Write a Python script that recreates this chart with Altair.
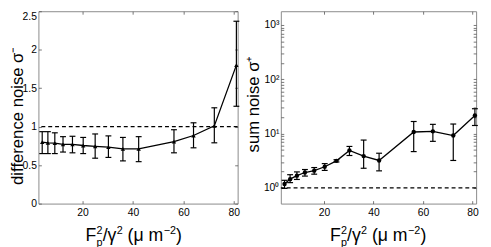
import altair as alt
import pandas as pd

# ---------------- data ----------------
x_vals = [4, 6.25, 9, 12.25, 16, 20.25, 25, 30.25, 36, 42.25, 56.25, 64, 72.25, 81]

diff_mean = [0.80, 0.79, 0.785, 0.77, 0.77, 0.755, 0.745, 0.735, 0.71, 0.71, 0.805, 0.885, 1.01, 1.80]
diff_lo = [0.65, 0.65, 0.65, 0.67, 0.66, 0.65, 0.59, 0.60, 0.555, 0.545, 0.66, 0.725, 0.79, 1.265]
diff_hi = [0.935, 0.935, 0.92, 0.87, 0.875, 0.86, 0.905, 0.88, 0.86, 0.87, 0.96, 1.05, 1.245, 2.37]

sum_mean = [1.18, 1.45, 1.68, 1.92, 2.08, 2.45, 3.15, 4.9, 3.85, 3.2, 10.7, 11.0, 9.2, 21.5]
sum_lo = [0.98, 1.25, 1.43, 1.65, 1.79, 2.10, 3.0, 3.95, 2.3, 2.06, 4.66, 7.2, 3.2, 14.1]
sum_hi = [1.38, 1.75, 1.97, 2.18, 2.37, 2.80, 3.3, 5.8, 7.6, 4.35, 16.7, 14.8, 15.0, 28.7]

x_ticks = [20, 40, 60, 80]
diff_ticks = [0, 0.5, 1, 1.5, 2, 2.5]
sum_ticks = [1, 10, 100, 1000]
sum_minor = [v * m for v in [1, 10, 100, 1000] for m in range(1, 10)]
ref_level = [1]

FONT = "Liberation Sans"
W_L, W_R, H = 203, 199, 196
XDOM = [2.5, 81.5]

dfL = pd.DataFrame({"x": x_vals, "m": diff_mean, "lo": diff_lo, "hi": diff_hi})
dfR = pd.DataFrame({"x": x_vals, "m": sum_mean, "lo": sum_lo, "hi": sum_hi})
dref = pd.DataFrame({"v": ref_level})
one = pd.DataFrame({"d": [0]})

xscale = alt.Scale(domain=XDOM, nice=False, zero=False)


def xtitle_layers(x0, ybase):
    segs = [
        ("F", 0.0, 0, 18),
        ("2", 11.2, -7.5, 11),
        ("p", 11.2, 5.0, 11),
        ("/γ", 17.5, 0, 18),
        ("2", 31.7, -7.5, 11),
        ("(μ m", 42.8, 0, 18),
        ("−2", 79.6, -7.5, 11),
        (")", 92.2, 0, 18),
    ]
    out = []
    for t, dx, dy, fs in segs:
        out.append(
            alt.Chart(one)
            .mark_text(text=t, align="left", baseline="alphabetic", fontSize=fs, font=FONT, color="black")
            .encode(x=alt.value(x0 + dx), y=alt.value(ybase + dy))
        )
    return out


def panel(df, width, yscale, yticks, minor, ytitle, title_x, title_y, shape, label_expr, label_baseline, x0):
    lab_axis_y = dict(
        values=yticks, title=ytitle, titleX=title_x, titleY=title_y, titleBaseline="alphabetic",
        titleFontSize=17, titleFont=FONT, titleFontWeight="normal", titleColor="black", grid=False,
        domain=False, ticks=False, tickSize=0, labelPadding=2, labelFontSize=10.5, labelFont=FONT,
        labelColor="black",
    )
    if label_expr:
        lab_axis_y["labelExpr"] = label_expr
    else:
        lab_axis_y["format"] = "~g"
    if label_baseline:
        lab_axis_y["labelBaseline"] = label_baseline
    ax_x = alt.Axis(values=x_ticks, title=None, grid=False, domain=False, ticks=False, tickSize=0,
                    labelPadding=4, labelFontSize=10.5, labelFont=FONT, labelColor="black")
    base = alt.Chart(df)
    line = base.mark_line(color="black", strokeWidth=1.3).encode(
        x=alt.X("x:Q", scale=xscale, axis=ax_x),
        y=alt.Y("m:Q", scale=yscale, axis=alt.Axis(**lab_axis_y)),
    )
    pts = base.mark_point(shape=shape, filled=True, size=20, color="black", opacity=1).encode(
        x=alt.X("x:Q", scale=xscale, axis=None), y=alt.Y("m:Q", scale=yscale, axis=None)
    )
    bars = base.mark_rule(color="black", strokeWidth=1.2).encode(
        x=alt.X("x:Q", scale=xscale, axis=None),
        y=alt.Y("lo:Q", scale=yscale, axis=None), y2="hi:Q",
    )
    cap_lo = base.mark_tick(orient="horizontal", size=6, thickness=1.2, color="black", opacity=1).encode(
        x=alt.X("x:Q", scale=xscale, axis=None), y=alt.Y("lo:Q", scale=yscale, axis=None)
    )
    cap_hi = base.mark_tick(orient="horizontal", size=6, thickness=1.2, color="black", opacity=1).encode(
        x=alt.X("x:Q", scale=xscale, axis=None), y=alt.Y("hi:Q", scale=yscale, axis=None)
    )
    dash = alt.Chart(dref).mark_rule(color="black", strokeWidth=1.2, strokeDash=[4, 3]).encode(
        y=alt.Y("v:Q", scale=yscale, axis=None)
    )
    tick_vals_y = minor if minor else yticks
    inner_kw = dict(labels=False, domain=False, grid=False, ticks=True, tickSize=3, tickColor="#555",
                    tickWidth=0.8, title=None)
    inner1 = base.mark_point(opacity=0).encode(
        x=alt.X("x:Q", scale=xscale, axis=alt.Axis(orient="top", offset=-H, values=x_ticks, **inner_kw)),
        y=alt.Y("m:Q", scale=yscale, axis=alt.Axis(orient="right", offset=-width, values=tick_vals_y, **inner_kw)),
    )
    inner2 = base.mark_point(opacity=0).encode(
        x=alt.X("x:Q", scale=xscale, axis=alt.Axis(orient="bottom", offset=-H, values=x_ticks, **inner_kw)),
        y=alt.Y("m:Q", scale=yscale, axis=alt.Axis(orient="left", offset=-width, values=tick_vals_y, **inner_kw)),
    )
    layers = [dash, bars, cap_lo, cap_hi, line, pts, inner1, inner2] + xtitle_layers(x0, 234)
    return (
        alt.layer(*layers)
        .properties(width=width, height=H)
        .resolve_axis(x="independent", y="independent")
    )


left = panel(
    dfL, W_L, alt.Scale(domain=[0, 2.5], nice=False, zero=False), diff_ticks, None,
    "difference noise σ⁻", -16, 106, "triangle-up", None,
    {"condition": {"test": "datum.value >= 2.5", "value": "top"}, "value": "middle"}, 48,
)
right = panel(
    dfR, W_R, alt.Scale(type="log", domain=[0.514, 1791], nice=False), sum_ticks,
    [v for v in sum_minor if 0.514 <= v <= 1791],
    "sum noise σ⁺", -23, 94, "circle",
    "datum.value == 1 ? '10⁰' : datum.value == 10 ? '10¹' : datum.value == 100 ? '10²' : '10³'",
    None, 50,
)

chart = (
    alt.hconcat(left, right, spacing=44, bounds="flush")
    .properties(padding={"left": 0, "top": 0, "right": 4, "bottom": 0}, background="white")
    .configure_view(stroke="#8a8a8a", strokeWidth=1)
)

chart.save("out.html", embed_options={"renderer": "svg", "actions": False})
